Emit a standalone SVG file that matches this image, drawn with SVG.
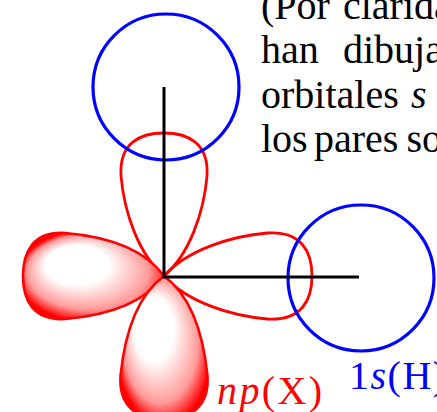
<svg xmlns="http://www.w3.org/2000/svg" width="437" height="412" viewBox="0 0 437 412">
  <style>
    .lobe-line { fill: none; stroke: #ff0000; stroke-width: 2.8; }
    .lobe-fill { fill: url(#shade); stroke: #ff0000; stroke-width: 2.6; }
    .s-orb { fill: none; stroke: #0000ff; stroke-width: 3.2; }
    .axes { fill: none; stroke: #000000; stroke-width: 3; stroke-linejoin: miter; }
    .txt { font-family: "Liberation Serif", "Times New Roman", serif; font-size: 40px; }
    .lbl { font-family: "Liberation Serif", "Times New Roman", serif; font-size: 40px; }
    .it { font-style: italic; }
  </style>
  <defs>
    <!-- highlight offset toward the upper-left of each lobe -->
    <radialGradient id="shade" cx="0.5" cy="0.5" r="0.54" fx="0.3" fy="0.28">
      <stop offset="0" stop-color="#ffffff"/>
      <stop offset="0.42" stop-color="#ffffff"/>
      <stop offset="0.8" stop-color="#ff9a9a"/>
      <stop offset="1" stop-color="#ff0000"/>
    </radialGradient>
  </defs>

  <!-- outlined p lobes (up, right) -->
  <g id="lobe-up">
    <path class="lobe-line" transform="translate(164,276)" d="M0,0 C-26,-22 -40,-65 -43,-100 C-45,-133 -24,-143 0,-143 C24,-143 45,-133 43,-100 C40,-65 26,-22 0,0Z"/>
  </g>
  <g id="lobe-right">
    <path class="lobe-line" transform="translate(164,276) rotate(90)" d="M0,0 C-26,-22.8 -40,-67.3 -43,-103.5 C-45,-137.7 -24,-148 0,-148 C24,-148 45,-137.7 43,-103.5 C40,-67.3 26,-22.8 0,0Z"/>
  </g>

  <!-- hydrogen 1s orbitals -->
  <g id="h1s-top">
    <circle class="s-orb" cx="166" cy="87" r="73"/>
  </g>
  <g id="h1s-right">
    <circle class="s-orb" cx="361" cy="278" r="73"/>
  </g>

  <!-- shaded p lobes (left, down) -->
  <g id="lobe-left">
    <path class="lobe-fill" d="M164,276 C142.3,306 99.9,316 65.4,319 C32.9,321 23,300 23,276 C23,252 32.9,231 65.4,233 C99.9,236 142.3,246 164,276Z"/>
  </g>
  <g id="lobe-down">
    <path class="lobe-fill" d="M164,276 C194,298 204,341 207.5,376 C209.5,409 188,419 164,419 C140,419 118.5,409 120.5,376 C124,341 134,298 164,276Z"/>
  </g>

  <!-- bond axes -->
  <g id="connectors">
    <path class="axes" d="M164,87 V277 H359"/>
  </g>

  <!-- labels -->
  <g id="label-np">
    <text class="lbl" x="217" y="404" fill="#ff0000" letter-spacing="2.4"><tspan class="it">np</tspan>(X)</text>
  </g>
  <g id="label-1s">
    <text class="lbl" x="349" y="389" fill="#0000ff" letter-spacing="1.5">1<tspan class="it">s</tspan>(H)</text>
  </g>

  <!-- note text -->
  <g id="note" class="txt" fill="#000000">
    <text x="261" y="18.5">(Por<tspan x="343">clarida</tspan></text>
    <text x="261" y="63">han<tspan x="343">dibuja</tspan></text>
    <text x="261" y="107.5">orbitales<tspan x="411" class="it">s</tspan></text>
    <text x="261" y="152">los<tspan x="314">pares</tspan><tspan x="406.5">so</tspan></text>
  </g>
</svg>
